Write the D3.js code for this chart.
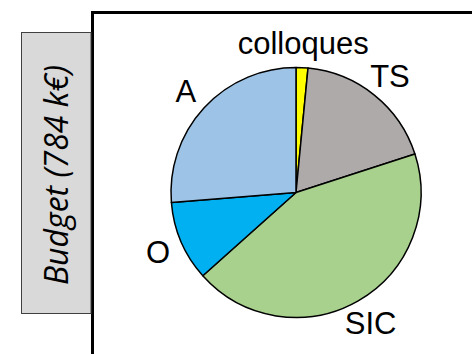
<!DOCTYPE html>
<html>
<head>
<meta charset="utf-8">
<script src="https://cdn.jsdelivr.net/npm/d3@7"></script>
<style>
  html, body { margin: 0; padding: 0; background: #fff; }
  svg { display: block; }
</style>
</head>
<body>
<svg id="chart" width="472" height="354"></svg>
<script>
// Budget breakdown, in k€
const categories = ["colloques", "TS", "SIC", "O", "A"];
const values = [12, 145, 340, 81, 206];
const colors = ["#ffff00", "#aeaaaa", "#a9d18e", "#00b0f0", "#9dc3e6"];
const budgetTitle = "Budget (784 k€)";

const svg = d3.select("#chart");

// Framed panel holding the pie (open to the right and bottom)
svg.append("path")
  .attr("d", "M92.5,354 V12.5 H472")
  .attr("fill", "none")
  .attr("stroke", "#000")
  .attr("stroke-width", 3);

// Grey side tag with the vertical title
svg.append("rect")
  .attr("x", 21.5).attr("y", 32.5)
  .attr("width", 69.5).attr("height", 281)
  .attr("fill", "#d9d9d9")
  .attr("stroke", "#404040")
  .attr("stroke-width", 1);

svg.append("text")
  .attr("transform", "translate(57,175) rotate(-90)")
  .attr("text-anchor", "middle")
  .attr("dy", "0.35em")
  .attr("font-family", "'Open Sans', sans-serif")
  .attr("font-style", "italic")
  .attr("font-size", 32)
  .attr("fill", "#000")
  .text(budgetTitle);

// Pie
const cx = 296, cy = 192.5, radius = 125;
const data = categories.map((c, i) => ({ name: c, value: values[i], color: colors[i] }));

const pie = d3.pie().value(d => d.value).sort(null);
const arcs = pie(data);
const arc = d3.arc().innerRadius(0).outerRadius(radius);
const labelArc = d3.arc().innerRadius(150).outerRadius(150);

const g = svg.append("g").attr("transform", `translate(${cx},${cy})`);

g.selectAll("path.slice")
  .data(arcs)
  .join("path")
  .attr("class", "slice")
  .attr("d", arc)
  .attr("fill", d => d.data.color)
  .attr("stroke", "#000")
  .attr("stroke-width", 1.5)
  .attr("stroke-linejoin", "round");

g.selectAll("text.label")
  .data(arcs)
  .join("text")
  .attr("class", "label")
  .attr("transform", d => `translate(${labelArc.centroid(d)})`)
  .attr("text-anchor", "middle")
  .attr("dy", "0.36em")
  .attr("font-family", "'Liberation Sans', Arial, sans-serif")
  .attr("font-size", 31)
  .attr("fill", "#000")
  .text(d => d.data.name);
</script>
</body>
</html>
